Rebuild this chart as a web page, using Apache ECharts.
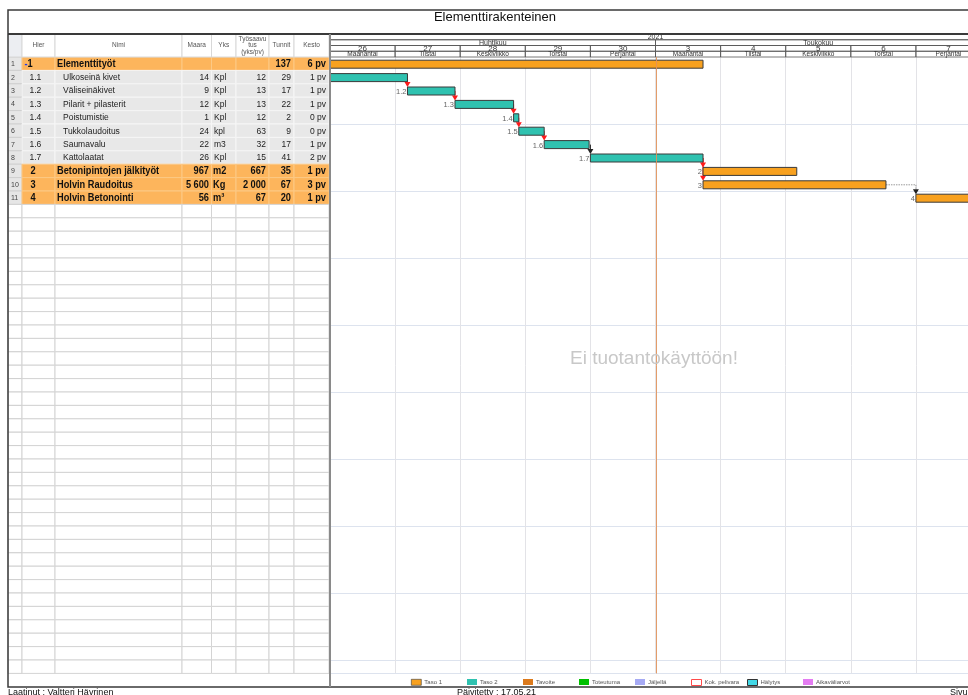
<!DOCTYPE html>
<html><head><meta charset="utf-8">
<script src="https://cdn.jsdelivr.net/npm/echarts@6/dist/echarts.min.js"></script>
<style>html,body{margin:0;padding:0;overflow:hidden;background:#fff;width:968px;height:695px}#c{width:990px;height:695px}</style>
</head><body><div id="c"></div><script>
const FONT = "'Liberation Sans', Arial, sans-serif";
// ---------- data ----------
const hier = ['-1','1.1','1.2','1.3','1.4','1.5','1.6','1.7','2','3','4'];
const names = ['Elementtityöt','Ulkoseinä kivet','Väliseinäkivet','Pilarit + pilasterit','Poistumistie','Tukkolaudoitus','Saumavalu','Kattolaatat','Betonipintojen jälkityöt','Holvin Raudoitus','Holvin Betonointi'];
const level = [1,2,2,2,2,2,2,2,1,1,1];
const amount = ['','14','9','12','1','24','22','26','967','5 600','56'];
const unit = ['','Kpl','Kpl','Kpl','Kpl','kpl','m3','Kpl','m2','Kg','m³'];
const rate = ['','12','13','13','12','63','32','15','667','2 000','67'];
const hours = ['137','29','17','22','2','9','17','41','35','67','20'];
const duration = ['6 pv','1 pv','1 pv','1 pv','0 pv','0 pv','1 pv','2 pv','1 pv','3 pv','1 pv'];
// task start / end in working days from Monday 26
const taskStart = [0, 0, 1.19, 1.92, 2.82, 2.90, 3.29, 4.0, 5.73, 5.73, 9.0];
const taskEnd   = [5.73, 1.19, 1.92, 2.82, 2.90, 3.29, 3.98, 5.73, 7.17, 8.54, 10.4];
// dependency links: from row, to row, kind
const links = [[1,2,0],[2,3,0],[3,4,0],[4,5,0],[5,6,0],[6,7,1],[7,8,0],[7,9,0],[9,10,2]];
const columnNames = ['', 'Hier', 'Nimi', 'Maara', 'Yks', 'Työsaavu\ntus\n(yks/pv)', 'Tunnit', 'Kesto'];
const dayNums = ['26','27','28','29','30','3','4','5','6','7'];
const weekdays = ['Maanantai','Tiistai','Keskiviikko','Torstai','Perjantai','Maanantai','Tiistai','Keskiviikko','Torstai','Perjantai'];
const months = ['Huhtikuu','Toukokuu'];
const monthStart = [0, 5];
const monthEnd = [5, 10];
const yearLabel = '2021';
const todayMark = 5;
const totalRows = 46;
const legendNames = ['Taso 1','Taso 2','Tavoite','Toteutuma','Jäljellä','Kok. pelivara','Hälytys','Aikaväliarvot'];

// ---------- styles / layout ----------
const COLS = [0,14,47,174,203.5,228,261,286,321];
const ORANGE_ROW = '#fdb55c';
const GREY_ROW = '#e8e8e8';
const TASO1 = '#f8a11f';
const TASO2 = '#2fc2b0';
const rowIds = Array.from({length: totalRows}, (_, i) => String(i + 1));

function txt(x, y, text, align, size, color, weight, sx) {
  return {type: 'text', x, y, scaleX: sx || 1, style: {x: 0, y: 0, text, align, verticalAlign: 'middle',
    fontSize: size, fill: color, fontWeight: weight || 'normal', fontFamily: FONT}};
}

function tableRow(params, api) {
  const r = api.value(1);
  const cy = api.coord([0, r])[1];
  const h = api.size([0, 1])[1];
  const top = cy - h / 2;
  const X = v => api.coord([v, r])[0];
  const has = r < hier.length;
  const lv = has ? level[r] : 0;
  const bg = lv === 1 ? ORANGE_ROW : lv === 2 ? GREY_ROW : '#fff';
  const line = lv === 1 ? '#fcc985' : lv === 2 ? '#f6f6f6' : '#d4d4d4';
  const ch = [];
  for (let j = 0; j < COLS.length - 1; j++) {
    const x0 = X(COLS[j]), x1 = X(COLS[j + 1]);
    ch.push({type: 'rect', shape: {x: x0, y: top, width: x1 - x0, height: h},
      style: {fill: j === 0 ? (has ? '#e6e6e6' : '#fff') : bg, stroke: j === 0 ? '#d0d0d0' : line, lineWidth: 1}});
  }
  if (has) {
    const big = lv === 1;
    const fs = big ? 10.5 : 8.5, fw = big ? 'bold' : 'normal', col = big ? '#111' : '#1c1c1c';
    const sx = big ? 0.88 : 1;
    const ty = cy + 0.5;
    ch.push(txt(X(3), ty, String(r + 1), 'left', 7, '#444'));
    if (hier[r].charAt(0) === '-') {
      ch.push({type: 'text', x: X(16.5), y: ty, scaleX: sx, style: {x: 0, y: 0, text: '{m|-}' + hier[r].slice(1), verticalAlign: 'middle',
        fontSize: fs, fontWeight: fw, fill: col, fontFamily: FONT,
        rich: {m: {fill: '#1d3cf0', fontSize: fs, fontWeight: 'bold', fontFamily: FONT}}}});
    } else {
      ch.push(txt(X(big ? 22.5 : 21.5), ty, hier[r], 'left', fs, col, fw, sx));
    }
    ch.push(txt(X(big ? 49 : 55), ty, names[r], 'left', fs, col, fw, sx));
    ch.push(txt(X(201), ty, amount[r], 'right', fs, col, fw, sx));
    ch.push(txt(X(big ? 205 : 206), ty, unit[r], 'left', fs, col, fw, sx));
    ch.push(txt(X(258), ty, rate[r], 'right', fs, col, fw, sx));
    ch.push(txt(X(283), ty, hours[r], 'right', fs, col, fw, sx));
    ch.push(txt(X(318), ty, duration[r], 'right', fs, col, fw, sx));
  }
  return {type: 'group', children: ch};
}

function tableHeader(params, api) {
  const cy = api.coord([0, 0])[1];
  const h = api.size([0, 1])[1];
  const top = cy - h / 2;
  const X = v => api.coord([v, 0])[0];
  const ch = [];
  for (let j = 0; j < COLS.length - 1; j++) {
    const x0 = X(COLS[j]), x1 = X(COLS[j + 1]);
    ch.push({type: 'rect', shape: {x: x0, y: top, width: x1 - x0, height: h},
      style: {fill: j === 0 ? '#eceef2' : '#fff', stroke: '#d8d8d8', lineWidth: 1}});
    if (columnNames[j]) {
      ch.push({type: 'text', style: {x: (x0 + x1) / 2, y: cy, text: columnNames[j], align: 'center',
        verticalAlign: 'middle', fontSize: 6.5, lineHeight: 6.5, fill: '#555', fontFamily: FONT}});
    }
  }
  return {type: 'group', children: ch};
}

// gantt header cells built from the arrays
const headerCells = [];
headerCells.push({x0: 0, x1: 10, row: 0, text: yearLabel, size: 7});
months.forEach((m, i) => headerCells.push({x0: monthStart[i], x1: monthEnd[i], row: 1, text: m, size: 7}));
dayNums.forEach((d, i) => headerCells.push({x0: i, x1: i + 1, row: 2, text: d, size: 8}));
weekdays.forEach((w, i) => headerCells.push({x0: i, x1: i + 1, row: 3, text: w, size: 6.5}));

function ganttHeader(params, api) {
  const c = headerCells[api.value(3)];
  const p0 = api.coord([api.value(0), api.value(1)]);
  const p1 = api.coord([api.value(2), api.value(1)]);
  const h = api.size([0, 1])[1];
  const top = p0[1] - h / 2;
  return {type: 'group', children: [
    {type: 'rect', shape: {x: p0[0], y: top, width: p1[0] - p0[0], height: h},
      style: {fill: 'none', stroke: '#555', lineWidth: 0.8}},
    {type: 'text', style: {x: (p0[0] + p1[0]) / 2, y: p0[1] + 0.5, text: c.text, align: 'center',
      verticalAlign: 'middle', fontSize: c.size, fill: '#333', fontFamily: FONT}}
  ]};
}

const BAR_H = 8;
function barItem(params, api) {
  const r = api.value(2);
  const s = api.coord([api.value(0), r]);
  const e = api.coord([api.value(1), r]);
  const cy = s[1] + 0.5;
  return {type: 'group', children: [
    {type: 'rect', shape: {x: s[0], y: cy - BAR_H / 2, width: e[0] - s[0], height: BAR_H},
      style: {fill: api.visual('color'), stroke: '#3a3a3a', lineWidth: 1}},
    {type: 'text', style: {x: s[0] - 1, y: cy + 1, text: hier[r].replace('-', ''), align: 'right',
      verticalAlign: 'middle', fontSize: 7.5, fill: '#666', fontFamily: FONT}}
  ]};
}

const LINK_COL = ['#ff1a1a', '#222', '#999'];
const ARROW_COL = ['#ff1a1a', '#222', '#222'];
function linkItem(params, api) {
  const p1 = api.coord([api.value(0), api.value(1)]);
  const p2 = api.coord([api.value(2), api.value(3)]);
  const k = api.value(4);
  const tTop = p2[1] + 0.5 - BAR_H / 2;
  const y1 = p1[1] + 0.5;
  const pts = Math.abs(p2[0] - p1[0]) > 3 ? [[p1[0], y1], [p2[0], y1], [p2[0], tTop - 4]] : [[p2[0], y1], [p2[0], tTop - 4]];
  return {type: 'group', children: [
    {type: 'polyline', shape: {points: pts}, style: {stroke: LINK_COL[k], lineWidth: 1, lineDash: k === 2 ? [1.5, 1] : null, fill: null}},
    {type: 'polygon', shape: {points: [[p2[0] - 3, tTop - 5], [p2[0] + 3, tTop - 5], [p2[0], tTop]]}, style: {fill: ARROW_COL[k]}}
  ]};
}

const legendStyles = [
  {color: TASO1, borderColor: '#333', borderWidth: 0.6},
  {color: TASO2},
  {color: '#dc7a1c'},
  {color: '#00c000'},
  {color: '#a6aaf4'},
  {color: '#fff', borderColor: '#ff4a4a', borderWidth: 1},
  {color: '#42d8e6', borderColor: '#333', borderWidth: 1},
  {color: '#e47cf2'}
];

const TODAY_COL = '#e0925a';
const series = [
  {type: 'custom', name: 'table', xAxisIndex: 0, yAxisIndex: 0, renderItem: tableRow, silent: true,
    data: rowIds.map((_, i) => [0, i]), encode: {x: 0, y: 1}},
  {type: 'custom', name: 'tableHeader', xAxisIndex: 3, yAxisIndex: 3, renderItem: tableHeader, silent: true,
    data: [[0, 0]], encode: {x: 0, y: 1}},
  {type: 'custom', name: 'ganttHeader', xAxisIndex: 2, yAxisIndex: 2, renderItem: ganttHeader, silent: true,
    data: headerCells.map((c, i) => [c.x0, c.row, c.x1, i]), encode: {x: 0, y: 1}},
  {type: 'custom', name: 'today', xAxisIndex: 1, yAxisIndex: 1, silent: true, z: 4,
    data: [[todayMark, 0]], encode: {x: 0, y: 1},
    renderItem: (params, api) => {
      const p = api.coord([api.value(0), 0]);
      const cs = params.coordSys;
      const x = Math.round(p[0]) + 0.5;
      return {type: 'line', shape: {x1: x, y1: cs.y, x2: x, y2: cs.y + cs.height},
        style: {stroke: TODAY_COL, lineWidth: 1, opacity: 0.9}};
    }},
  {type: 'custom', name: 'links', xAxisIndex: 1, yAxisIndex: 1, renderItem: linkItem, clip: true, silent: true, z: 2,
    data: links.map(([f, t, k]) => [taskEnd[f], f, taskStart[t], t, k]), encode: {x: 0, y: 1}},
  {type: 'custom', name: 'Taso 1', xAxisIndex: 1, yAxisIndex: 1, renderItem: barItem, clip: true, silent: true, z: 3,
    itemStyle: {color: TASO1},
    data: hier.map((_, i) => [taskStart[i], taskEnd[i], i]).filter((_, i) => level[i] === 1), encode: {x: 0, y: 2}},
  {type: 'custom', name: 'Taso 2', xAxisIndex: 1, yAxisIndex: 1, renderItem: barItem, clip: true, silent: true, z: 3,
    itemStyle: {color: TASO2},
    data: hier.map((_, i) => [taskStart[i], taskEnd[i], i]).filter((_, i) => level[i] === 2), encode: {x: 0, y: 2}}
];
legendNames.slice(2).forEach((n, i) => series.push({type: 'custom', name: n, xAxisIndex: 1, yAxisIndex: 1,
  itemStyle: {color: legendStyles[i + 2].color}, renderItem: () => null,
  data: [[-1, 0]], encode: {x: 0, y: 1}, silent: true}));

const ROW_H = 13.4;
const legends = legendNames.map((n, i) => ({
  left: 411 + 56 * i, top: 679, padding: 0, itemWidth: 10, itemHeight: 6, itemGap: 0, selectedMode: false,
  textStyle: {fontSize: 6, color: '#555', fontFamily: FONT, padding: [0, 0, 0, -2]},
  data: [{name: n, icon: 'rect', itemStyle: legendStyles[i]}]
}));

const option = {
  animation: false,
  title: {text: 'Elementtirakenteinen', left: 'center', top: 11, padding: 0,
    textStyle: {fontSize: 13, fontWeight: 'normal', color: '#111', fontFamily: FONT}},
  legend: legends,
  grid: [
    {left: 8, top: 57, width: 321, height: totalRows * ROW_H},
    {left: 330, top: 57, width: 651, height: totalRows * ROW_H},
    {left: 330, top: 34, width: 651, height: 23},
    {left: 8, top: 34, width: 321, height: 23}
  ],
  xAxis: [
    {gridIndex: 0, type: 'value', min: 0, max: 321, show: false},
    {gridIndex: 1, type: 'value', min: 0, max: 10, interval: 1, axisLine: {show: false}, axisTick: {show: false},
      axisLabel: {show: false}, splitLine: {show: true, lineStyle: {color: '#e3e3e7', width: 1}}},
    {gridIndex: 2, type: 'value', min: 0, max: 10, show: false},
    {gridIndex: 3, type: 'value', min: 0, max: 321, show: false}
  ],
  yAxis: [
    {gridIndex: 0, type: 'category', data: rowIds, inverse: true, show: false},
    {gridIndex: 1, type: 'category', data: rowIds, inverse: true, axisLine: {show: false}, axisTick: {show: false},
      axisLabel: {show: false}, splitLine: {show: true, interval: (i) => i > 0 && i % 5 === 0, lineStyle: {color: '#dde3ee', width: 1}}},
    {gridIndex: 2, type: 'category', data: ['year', 'month', 'day', 'weekday'], inverse: true, show: false},
    {gridIndex: 3, type: 'category', data: ['head'], show: false}
  ],
  graphic: [
    {type: 'rect', z: 100, silent: true, shape: {x: 8, y: 10, width: 974, height: 677}, style: {fill: 'none', stroke: '#3a3a3a', lineWidth: 1.5}},
    {type: 'line', z: 100, silent: true, shape: {x1: 8, y1: 34, x2: 982, y2: 34}, style: {stroke: '#3a3a3a', lineWidth: 2}},
    {type: 'line', z: 100, silent: true, shape: {x1: 330, y1: 34, x2: 330, y2: 687}, style: {stroke: '#8a8a8a', lineWidth: 2}},
    {type: 'text', z: 50, silent: true, left: 570, top: 349, style: {text: 'Ei tuotantokäyttöön!', fontSize: 19, fill: '#c8c8c8', fontFamily: FONT}},
    {type: 'text', z: 100, silent: true, left: 8, top: 688, style: {text: 'Laatinut : Valtteri Hävrinen', fontSize: 9, fill: '#111', fontFamily: FONT}},
    {type: 'text', z: 100, silent: true, left: 457, top: 688, style: {text: 'Päivitetty : 17.05.21', fontSize: 9, fill: '#111', fontFamily: FONT}},
    {type: 'text', z: 100, silent: true, left: 950, top: 688, style: {text: 'Sivu', fontSize: 9, fill: '#111', fontFamily: FONT}}
  ],
  series
};
const chart = echarts.init(document.getElementById('c'), null, {renderer: 'canvas'});
chart.setOption(option);
</script></body></html>
